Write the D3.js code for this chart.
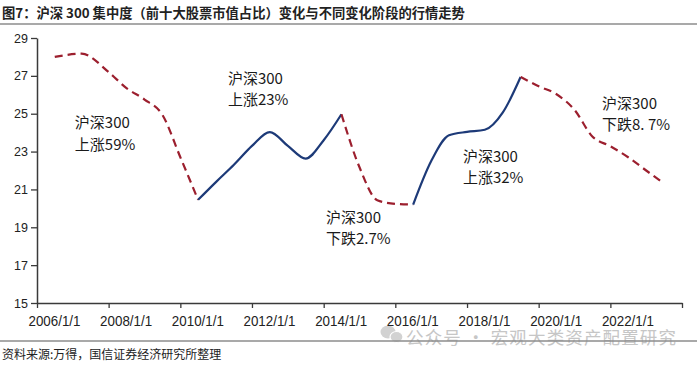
<!DOCTYPE html>
<html><head><meta charset="utf-8">
<script src="https://cdn.jsdelivr.net/npm/d3@7"></script>
<style>
html,body{margin:0;padding:0;background:#fff;}
svg{display:block;}
</style></head>
<body>
<svg id="c" width="700" height="366"></svg>
<script>
// ---- data ----
const titleText = "图7：沪深 300 集中度（前十大股票市值占比）变化与不同变化阶段的行情走势";
const sourceText = "资料来源:万得，国信证券经济研究所整理";
const watermarkText = "公众号 · 宏观大类资产配置研究";
const yTicks = [15, 17, 19, 21, 23, 25, 27, 29];
const xTickDates = ["2006-01-01","2008-01-01","2010-01-01","2012-01-01","2014-01-01","2016-01-01","2018-01-01","2020-01-01","2022-01-01","2024-01-01"];
const xTickLabels = ["2006/1/1","2008/1/1","2010/1/1","2012/1/1","2014/1/1","2016/1/1","2018/1/1","2020/1/1","2022/1/1",""];

const seg1Dates = ["2006-07-01","2007-04-01","2008-01-01","2008-07-01","2009-01-01","2009-07-01","2010-01-01","2010-07-01"];
const seg1Values = [28.0, 28.17, 27.2, 26.35, 25.75, 24.95, 22.7, 20.45];
const seg2Dates = ["2010-07-01","2011-01-01","2011-07-01","2012-01-01","2012-07-01","2013-01-01","2013-07-01","2014-01-01","2014-07-01"];
const seg2Values = [20.45, 21.4, 22.3, 23.3, 24.03, 23.3, 22.63, 23.6, 24.97];
const seg3Dates = ["2014-07-01","2015-01-01","2015-07-01","2016-01-01","2016-07-01"];
const seg3Values = [24.97, 22.17, 20.43, 20.24, 20.2];
const seg4Dates = ["2016-07-01","2017-01-01","2017-07-01","2018-01-01","2018-07-01","2019-01-01","2019-07-01"];
const seg4Values = [20.2, 22.5, 23.86, 24.04, 24.15, 25.07, 26.94];
const seg5Dates = ["2019-07-01","2020-01-01","2020-07-01","2021-01-01","2021-07-01","2022-01-01","2022-07-01","2023-01-01","2023-07-01"];
const seg5Values = [26.94, 26.45, 26.03, 25.2, 23.8, 23.28, 22.7, 22.0, 21.31];
const segKinds = ["dash","solid","dash","solid","dash"];

const annoLine1 = ["沪深300","沪深300","沪深300","沪深300","沪深300"];
const annoLine2 = ["上涨59%","上涨23%","下跌2.7%","上涨32%","下跌8. 7%"];
const annoDates = ["2007-01-22","2011-05-01","2014-01-25","2017-11-20","2021-10-08"];
const annoValues = [24.24, 26.57, 19.23, 22.45, 25.25];

// ---- layout ----
const svg = d3.select("#c");
const parse = d3.timeParse("%Y-%m-%d");
const x = d3.scaleTime().domain([parse("2006-01-01"), parse("2024-01-01")]).range([37, 682]);
const y = d3.scaleLinear().domain([15, 29]).range([303, 38]);

const RED = "#9c1f2e", BLUE = "#1d3a78", AX = "#3a3a3a";

// title
svg.append("text").attr("x", 2).attr("y", 18)
  .attr("font-family", "'Noto Sans CJK SC', sans-serif").attr("font-size", 13.3)
  .attr("font-weight", 700).attr("fill", "#222").text(titleText);
svg.append("line").attr("x1", 0).attr("x2", 697).attr("y1", 24).attr("y2", 24)
  .attr("stroke", "#8c8c8c").attr("stroke-width", 1.6);

// y axis
const gy = svg.append("g").attr("transform", "translate(37,0)")
  .call(d3.axisLeft(y).tickValues(yTicks).tickSize(6).tickSizeOuter(0).tickPadding(3));
gy.select(".domain").attr("stroke", AX).attr("stroke-width", 1.5);
gy.selectAll(".tick line").attr("stroke", AX).attr("stroke-width", 1.3);
gy.selectAll(".tick text").attr("font-family", "'Liberation Sans', Arial, sans-serif")
  .attr("font-size", 12.5).attr("fill", "#222");

// watermark (drawn beneath axis labels)
const wm = svg.append("g").attr("fill", "#d2d2d2");
wm.append("ellipse").attr("cx", 388).attr("cy", 332).attr("rx", 7.5).attr("ry", 6.5);
wm.append("ellipse").attr("cx", 396.5).attr("cy", 337).attr("rx", 6.5).attr("ry", 5.5).attr("stroke", "#fff").attr("stroke-width", 1.2);
svg.append("text").attr("x", 406).attr("y", 344)
  .attr("font-family", "'Noto Sans CJK SC', sans-serif").attr("font-size", 17.5)
  .attr("fill", "#c6c6c6").attr("textLength", 270).attr("lengthAdjust", "spacing").text(watermarkText);

// x axis
const xDates = xTickDates.map(parse);
const gx = svg.append("g").attr("transform", "translate(0,303)")
  .call(d3.axisBottom(x).tickValues(xDates).tickSize(5).tickSizeOuter(0)
    .tickFormat((d, i) => xTickLabels[i]));
gx.select(".domain").attr("stroke", AX).attr("stroke-width", 1.5);
gx.selectAll(".tick line").attr("stroke", AX).attr("stroke-width", 1.3);
gx.selectAll(".tick text").attr("font-family", "'Liberation Sans', Arial, sans-serif")
  .attr("font-size", 14.5).attr("fill", "#222").attr("dy", "1.02em").attr("dx", 17)
  .each(function(d, i){ if (xTickLabels[i]) { d3.select(this).attr("textLength", 52).attr("lengthAdjust", "spacingAndGlyphs"); } });

// lines
const segDates = [seg1Dates, seg2Dates, seg3Dates, seg4Dates, seg5Dates];
const segValues = [seg1Values, seg2Values, seg3Values, seg4Values, seg5Values];
const line = d3.line().x(d => x(d[0])).y(d => y(d[1])).curve(d3.curveMonotoneX);
segDates.forEach((ds, k) => {
  const pts = ds.map((d, i) => [parse(d), segValues[k][i]]);
  const p = svg.append("path").datum(pts).attr("d", line).attr("fill", "none")
    .attr("stroke-width", 2.2).attr("stroke-linejoin", "round");
  if (segKinds[k] === "dash") p.attr("stroke", RED).attr("stroke-dasharray", "8,5");
  else p.attr("stroke", BLUE);
});

// annotations
annoDates.forEach((d, i) => {
  const tx = x(parse(d)), ty = y(annoValues[i]);
  const t = svg.append("text").attr("font-family", "'Noto Sans CJK SC', sans-serif")
    .attr("font-size", 15).attr("fill", "#1a1a1a");
  t.append("tspan").attr("x", tx).attr("y", ty).text(annoLine1[i]);
  t.append("tspan").attr("x", tx).attr("y", ty + 21.5).text(annoLine2[i]);
});

// bottom rule + source
svg.append("line").attr("x1", 0).attr("x2", 697).attr("y1", 341).attr("y2", 341)
  .attr("stroke", "#8c8c8c").attr("stroke-width", 1.6);
svg.append("text").attr("x", 2).attr("y", 359)
  .attr("font-family", "'Noto Sans CJK SC', sans-serif").attr("font-size", 12)
  .attr("fill", "#222").text(sourceText);
</script>
</body></html>
